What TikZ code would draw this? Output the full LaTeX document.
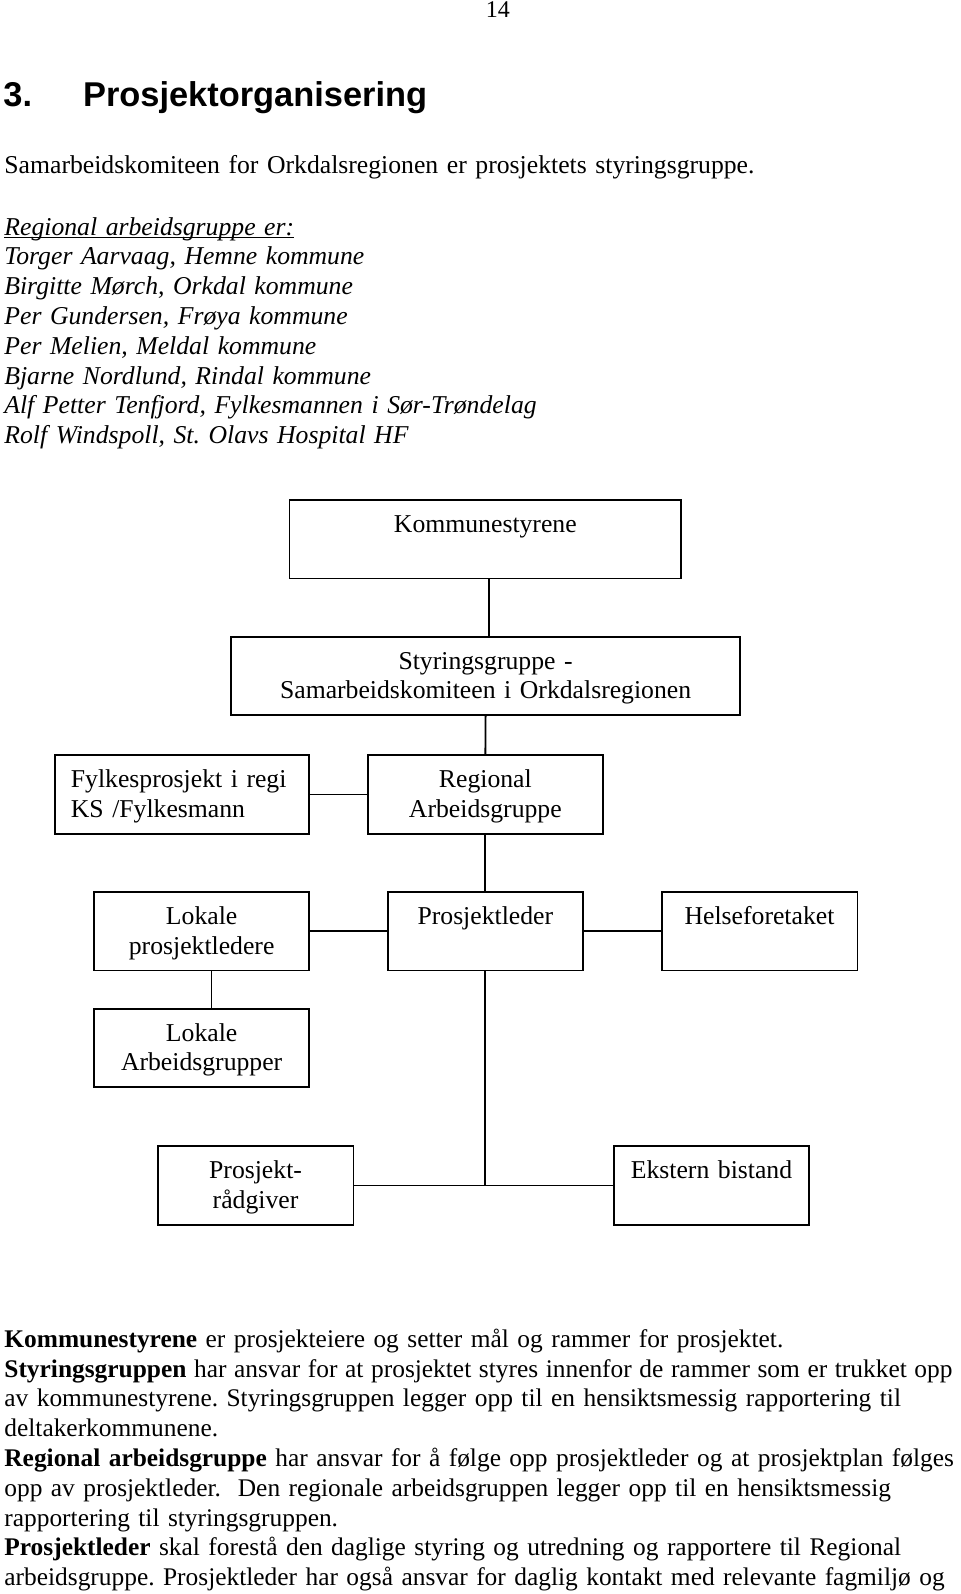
\documentclass[tikz,border=0pt]{standalone}
\usepackage{fontspec}
\setmainfont{Liberation Serif}
\newfontfamily\hodefont{Liberation Sans}
\frenchspacing

\tikzset{
    boks/.style={draw, line width=0.9pt, anchor=north west, inner xsep=8pt, inner ysep=0pt,
        text height=16.25pt, text depth=23pt, align=center, font=\fontsize{12.85}{14.9}\selectfont},
    tekst/.style={anchor=base west, inner sep=0pt, align=left, text width=520pt,
        font=\fontsize{12.85}{14.9}\selectfont},
    linje/.style={line width=0.9pt}
}

\begin{document}
\begin{tikzpicture}[x=0.5pt, y=-0.5pt]
    \useasboundingbox (0,0) rectangle (960,1594);

    \node[anchor=base west, inner sep=0pt, font=\fontsize{12}{14}\selectfont] (side) at (485.5,18) {14};
    \node[anchor=base west, inner sep=0pt, font=\hodefont\bfseries\fontsize{17.2}{20}\selectfont] (overskrift) at (3,107) {\makebox[39.85pt][l]{3.}Prosjektorganisering};
    \node[tekst] (intro) at (4,174) {Samarbeidskomiteen for Orkdalsregionen er prosjektets styringsgruppe.};
    \node[tekst, font=\fontsize{12.85}{14.9}\selectfont\itshape] (medlemmer) at (4,235) {\underbar{Regional arbeidsgruppe er:}\\
        Torger Aarvaag, Hemne kommune\\
        Birgitte Mørch, Orkdal kommune\\
        Per Gundersen, Frøya kommune\\
        Per Melien, Meldal kommune\\
        Bjarne Nordlund, Rindal kommune\\
        Alf Petter Tenfjord, Fylkesmannen i Sør-Trøndelag\\
        Rolf Windspoll, St. Olavs Hospital HF};

    \node[boks, text width=179.85pt] (kommunestyrene) at (288.6,499) {Kommunestyrene};
    \node[boks, text width=238.5pt] (styringsgruppe) at (230.2,635.7) {Styringsgruppe -\\ Samarbeidskomiteen i Orkdalsregionen};
    \node[boks, text width=111.1pt, align=left] (fylkesprosjekt) at (54,754.3) {Fylkesprosjekt i regi\\ KS /Fylkesmann};
    \node[boks, text width=101.25pt] (regional) at (367.2,754.3) {Regional\\ Arbeidsgruppe};
    \node[boks, text width=91.45pt] (lokaleledere) at (93.3,891) {Lokale\\ prosjektledere};
    \node[boks, text width=81.65pt] (prosjektleder) at (386.8,891) {Prosjektleder};
    \node[boks, text width=81.9pt] (helseforetaket) at (660.7,891) {Helseforetaket};
    \node[boks, text width=91.45pt] (lokalegrupper) at (93.3,1007.7) {Lokale\\ Arbeidsgrupper};
    \node[boks, text width=81.95pt] (raadgiver) at (156.7,1145.3) {Prosjekt-\\ rådgiver};
    \node[boks, text width=81.6pt] (ekstern) at (613,1145.3) {Ekstern bistand};

    \draw[linje] ([xshift=2pt]kommunestyrene.south) -- ([xshift=2pt]kommunestyrene.south |- styringsgruppe.north);
    \draw[linje] (styringsgruppe.south) -- (regional.north);
    \draw[linje] (fylkesprosjekt.east) -- (regional.west);
    \draw[linje] (regional.south) -- (prosjektleder.north);
    \draw[linje] (lokaleledere.east) -- (prosjektleder.west);
    \draw[linje] (prosjektleder.east) -- (helseforetaket.west);
    \draw[linje] ([xshift=4.9pt]lokaleledere.south) -- ([xshift=4.9pt]lokalegrupper.north);
    \coordinate (knutepunkt) at (prosjektleder.south |- raadgiver.east);
    \draw[linje] (prosjektleder.south) -- (knutepunkt);
    \draw[linje] (raadgiver.east) -- (knutepunkt) -- (ekstern.west);

    \node[tekst, font=\fontsize{12.7}{14.9}\selectfont] (forklaring) at (4,1347.3) {\textbf{Kommunestyrene} er prosjekteiere og setter mål og rammer for prosjektet.\\
        {\spaceskip=3.8pt\textbf{Styringsgruppen} har ansvar for at prosjektet styres innenfor de rammer som er trukket opp}\\
        av kommunestyrene. Styringsgruppen legger opp til en hensiktsmessig rapportering til\\
        deltakerkommunene.\\
        \textbf{Regional arbeidsgruppe} har ansvar for å følge opp prosjektleder og at prosjektplan følges\\
        opp av prosjektleder.\ \ Den regionale arbeidsgruppen legger opp til en hensiktsmessig\\
        rapportering til styringsgruppen.\\
        \textbf{Prosjektleder} skal forestå den daglige styring og utredning og rapportere til Regional\\
        arbeidsgruppe. Prosjektleder har også ansvar for daglig kontakt med relevante fagmiljø og};
\end{tikzpicture}
\end{document}
